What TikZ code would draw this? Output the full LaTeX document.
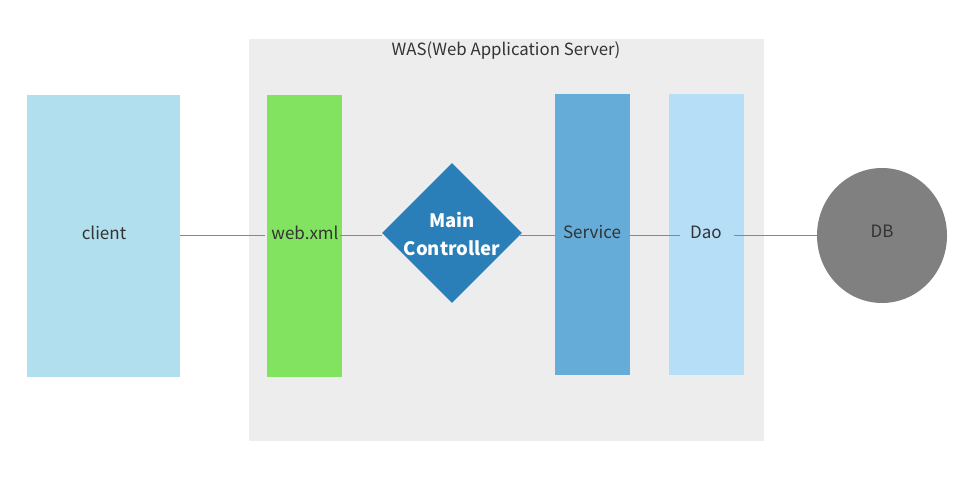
\documentclass[tikz,border=0pt]{standalone}
\usepackage{fontspec}
\setmainfont{Noto Sans CJK KR}
\usetikzlibrary{shapes.geometric}
\definecolor{wasbg}{HTML}{EDEDED}
\definecolor{clientc}{HTML}{B1DFEE}
\definecolor{webc}{HTML}{82E360}
\definecolor{mainc}{HTML}{2A7FB8}
\definecolor{servc}{HTML}{65ACD9}
\definecolor{daoc}{HTML}{B7DEF7}
\definecolor{dbc}{HTML}{808080}
\definecolor{txt}{HTML}{333333}
\definecolor{linec}{HTML}{888888}
\tikzset{
  box/.style={draw=none, anchor=north west, inner sep=0pt},
  lbl/.style={text=txt, font=\fontsize{17}{20}\selectfont, inner sep=0pt},
  conn/.style={draw=linec, line width=1pt},
}
\begin{document}
\begin{tikzpicture}[x=1pt,y=-1pt]
\useasboundingbox (0,0) rectangle (977,477);
% WAS container
\fill[wasbg] (249,39) rectangle (764,441);
\node[text=txt, font=\fontsize{16.8}{19}\selectfont] (was) at (506,51) {WAS(Web Application Server)};
% boxes
\node[box, fill=clientc, minimum width=153pt, minimum height=282pt] (client) at (27,95) {};
\node[box, fill=webc, minimum width=75pt, minimum height=282pt] (web) at (267,95) {};
\node[box, fill=servc, minimum width=75pt, minimum height=281pt] (serv) at (555,94) {};
\node[box, fill=daoc, minimum width=75pt, minimum height=281pt] (dao) at (669,94) {};
\node[diamond, fill=mainc, minimum width=140pt, minimum height=140pt, inner sep=0pt] (main) at (452,233) {};
\node[ellipse, fill=dbc, minimum width=130pt, minimum height=135pt, inner sep=0pt] (db) at (882,235.5) {};
% labels
\node[lbl] (clientt) at (104,233) {client};
\node[lbl, minimum height=10pt] (webt) at (305,233) {web.xml};
\node[text=white, font=\bfseries\fontsize{18.5}{28}\selectfont, align=center] (maint) at (452,234) {Main\\Controller};
\node[lbl] (servt) at (592,232) {Service};
\node[lbl] (daot) at (706,232) {Dao};
\node[lbl] (dbt) at (882,231) {DB};
% connectors
\coordinate (c1) at (client.east |- 0,235.5);
\coordinate (w1) at ([xshift=-6pt]webt.west |- 0,235.5);
\coordinate (w2) at ([xshift=1pt]webt.east |- 0,235.5);
\coordinate (m1) at (main.west |- 0,235.5);
\coordinate (m2) at ([xshift=-2pt]main.east |- 0,235.5);
\coordinate (s1) at (serv.west |- 0,235.5);
\coordinate (s2) at (serv.east |- 0,235.5);
\coordinate (d1) at ([xshift=-10pt]daot.west |- 0,235.5);
\coordinate (d2) at ([xshift=12pt]daot.east |- 0,235.5);
\coordinate (b1) at (db.west |- 0,235.5);
\draw[conn] (c1) -- (w1);
\draw[conn] (w2) -- (m1);
\draw[conn] (m2) -- (s1);
\draw[conn] (s2) -- (d1);
\draw[conn] (d2) -- (b1);
\end{tikzpicture}
\end{document}
